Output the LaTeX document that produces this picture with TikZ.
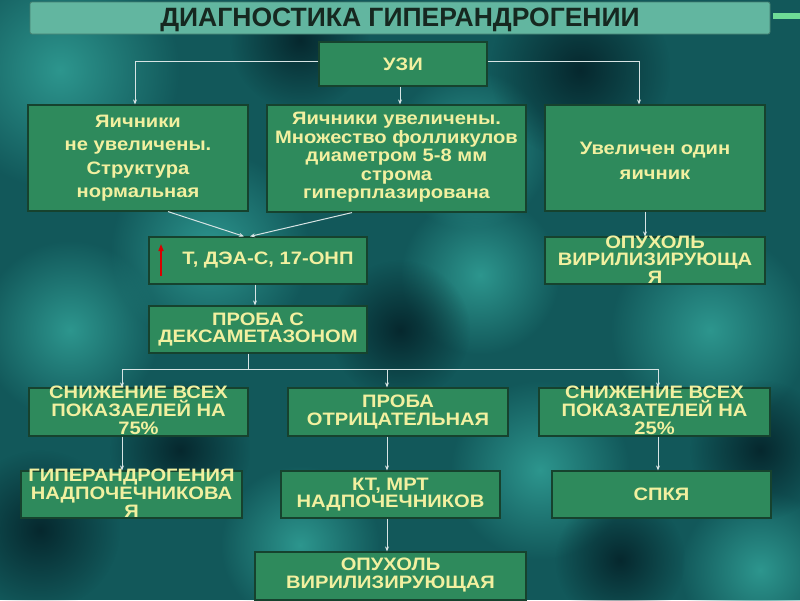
\documentclass[tikz,border=0pt]{standalone}
\usepackage{fontspec}
\setmainfont{Liberation Sans}
\newfontfamily\boxfont{Liberation Sans}[FakeStretch=1.12]
\usetikzlibrary{arrows.meta,fadings}
\tikzfading[name=softblob, inner color=transparent!0, outer color=transparent!100]
\definecolor{bg}{RGB}{18,88,90}
\definecolor{bglight}{RGB}{45,150,142}
\definecolor{bgdark}{RGB}{6,40,46}
\definecolor{boxfill}{RGB}{46,138,92}
\definecolor{boxline}{RGB}{22,66,46}
\definecolor{txtcol}{RGB}{242,240,160}
\definecolor{linecol}{RGB}{215,228,228}
\definecolor{titlefill}{RGB}{98,182,160}
\definecolor{titletxt}{RGB}{22,40,32}
\definecolor{greenbar}{RGB}{110,220,150}
\tikzset{
  box/.style={draw=boxline, line width=1.2pt, fill=boxfill, inner sep=0pt},
  txt/.style={text=txtcol, font=\boxfont\bfseries\fontsize{18}{18.5}\selectfont, align=center, inner sep=0pt},
  conn/.style={draw=linecol, line width=1pt, -{Stealth[length=5pt,width=4pt]}},
  plain/.style={draw=linecol, line width=1pt},
  blobL/.style={fill=bglight, path fading=softblob},
  blobD/.style={fill=bgdark, path fading=softblob}
}
\begin{document}
\begin{tikzpicture}[x=1pt,y=-1pt]
\useasboundingbox (0,0) rectangle (800,600);
\begin{scope}
\clip (0,0) rectangle (800,600);
\fill[bg] (0,0) rectangle (800,600);
\fill[blobL] (60,70) circle[radius=120pt];
\fill[blobL] (210,250) circle[radius=100pt];
\fill[blobL] (70,330) circle[radius=90pt];
\fill[blobL] (480,275) circle[radius=80pt];
\fill[blobL] (710,330) circle[radius=100pt];
\fill[blobL] (540,470) circle[radius=90pt];
\fill[blobL] (300,545) circle[radius=80pt];
\fill[blobL] (760,570) circle[radius=80pt];
\fill[blobL] (470,150) circle[radius=80pt];
\fill[blobD] (580,70) circle[radius=90pt];
\fill[blobD] (400,330) circle[radius=70pt];
\fill[blobD] (40,530) circle[radius=80pt];
\fill[blobD] (180,450) circle[radius=70pt];
\fill[blobD] (760,450) circle[radius=70pt];
\fill[blobD] (620,560) circle[radius=65pt];
\fill[blobD] (300,40) circle[radius=70pt];
\end{scope}
% title
\node[draw=titlefill!70!black, line width=0.8pt, fill=titlefill, rounded corners=2pt, minimum width=740pt, minimum height=32pt, inner sep=0pt] (title) at (400,18) {};
\node[text=titletxt, font=\bfseries\fontsize{26.5}{28}\selectfont, inner sep=0pt] (titletext) at ([yshift=-2pt]title.center) {ДИАГНОСТИКА ГИПЕРАНДРОГЕНИИ};
\fill[greenbar] (773,13) rectangle (800,19);
% boxes
\node[box, minimum width=168pt, minimum height=44pt] (uzi) at (403,64) {};
\node[txt] at (uzi) {УЗИ};
\node[box, minimum width=220pt, minimum height=106pt] (b1) at (138,158) {};
\node[txt, font=\boxfont\bfseries\fontsize{18}{23.5}\selectfont] at (b1) {Яичники\\не увеличены.\\Структура\\нормальная};
\node[box, minimum width=259pt, minimum height=107pt] (b2) at (396.5,158.5) {};
\node[txt] at ([yshift=1pt]b2.center) {Яичники увеличены.\\Множество фолликулов\\диаметром 5-8 мм\\строма\\гиперплазирована};
\node[box, minimum width=220pt, minimum height=106pt] (b3) at (655,158) {};
\node[txt, font=\boxfont\bfseries\fontsize{18}{25}\selectfont] at ([yshift=-2.5pt]b3.center) {Увеличен один\\яичник};
\node[box, minimum width=218pt, minimum height=47pt] (t) at (258,260.5) {};
\node[txt] at ([xshift=10pt]t.center) {Т, ДЭА-С, 17-ОНП};
\node[box, minimum width=220pt, minimum height=47pt] (op1) at (655,260.5) {};
\node[txt, font=\boxfont\bfseries\fontsize{18}{17.5}\selectfont] at ([yshift=1pt]op1.center) {ОПУХОЛЬ\\ВИРИЛИЗИРУЮЩА\\Я};
\node[box, minimum width=218pt, minimum height=47pt] (pr) at (258,329.5) {};
\node[txt, font=\boxfont\bfseries\fontsize{18}{17.5}\selectfont] at (pr) {ПРОБА С\\ДЕКСАМЕТАЗОНОМ};
\node[box, minimum width=219pt, minimum height=48pt] (r3a) at (138.5,412) {};
\node[txt, font=\boxfont\bfseries\fontsize{18}{18}\selectfont] at ([yshift=2pt]r3a.center) {СНИЖЕНИЕ ВСЕХ\\ПОКАЗАЕЛЕЙ НА\\75\%};
\node[box, minimum width=220pt, minimum height=48pt] (r3b) at (398,412) {};
\node[txt, font=\boxfont\bfseries\fontsize{18}{17.5}\selectfont] at (r3b) {ПРОБА\\ОТРИЦАТЕЛЬНАЯ};
\node[box, minimum width=231pt, minimum height=48pt] (r3c) at (654.5,412) {};
\node[txt, font=\boxfont\bfseries\fontsize{18}{18}\selectfont] at ([yshift=2pt]r3c.center) {СНИЖЕНИЕ ВСЕХ\\ПОКАЗАТЕЛЕЙ НА\\25\%};
\node[box, minimum width=221pt, minimum height=47pt] (r4a) at (131.5,494.5) {};
\node[txt, font=\boxfont\bfseries\fontsize{18}{18}\selectfont] at ([yshift=1.5pt]r4a.center) {ГИПЕРАНДРОГЕНИЯ\\НАДПОЧЕЧНИКОВА\\Я};
\node[box, minimum width=219pt, minimum height=47pt] (r4b) at (390.5,494.5) {};
\node[txt, font=\boxfont\bfseries\fontsize{18}{17.5}\selectfont] at (r4b) {КТ, МРТ\\НАДПОЧЕЧНИКОВ};
\node[box, minimum width=219pt, minimum height=47pt] (r4c) at (661.5,494.5) {};
\node[txt] at (r4c) {СПКЯ};
\node[box, minimum width=271pt, minimum height=48pt] (bot) at (390.5,576) {};
\node[txt, font=\boxfont\bfseries\fontsize{18}{18}\selectfont] at ([yshift=1.5pt]bot.center) {ОПУХОЛЬ\\ВИРИЛИЗИРУЮЩАЯ};
% red arrow
\coordinate (ra1) at (161,276);
\coordinate (ra2) at (161,244);
\draw[draw=red!85!black, line width=1.4pt, -{Triangle[length=7pt,width=5pt]}] (ra1) -- (ra2);
% connectors
\draw[conn] ([yshift=3pt]uzi.west) -| ([xshift=-3pt]b1.north);
\draw[conn] ([yshift=3pt]uzi.east) -| ([xshift=-16pt]b3.north);
\draw[conn] ([xshift=-3pt]uzi.south) -- ([xshift=-3pt]uzi.south |- b2.north);
\draw[conn] ([xshift=30pt]b1.south) -- ([xshift=-14pt]t.north);
\draw[conn] ([xshift=-44.5pt]b2.south) -- ([xshift=-8pt]t.north);
\draw[conn] ([xshift=-10pt]b3.south) -- ([xshift=-10pt]op1.north);
\draw[conn] ([xshift=-3pt]t.south) -- ([xshift=-3pt]pr.north);
\coordinate (split) at (248,369);
\draw[plain] ([xshift=-10pt]pr.south) -- (split);
\draw[conn] (split) -| ([xshift=-16.5pt]r3a.north);
\draw[conn] (split) -| ([xshift=3.5pt]r3c.north);
\draw[conn] ([xshift=-11pt]r3b.north |- split) -- ([xshift=-11pt]r3b.north);
\draw[conn] ([xshift=-16.5pt]r3a.south) -- ([xshift=-16.5pt]r3a.south |- r4a.north);
\draw[conn] ([xshift=-11pt]r3b.south) -- ([xshift=-11pt]r3b.south |- r4b.north);
\draw[conn] ([xshift=3.5pt]r3c.south) -- ([xshift=3.5pt]r3c.south |- r4c.north);
\draw[conn] ([xshift=-3.5pt]r4b.south) -- ([xshift=-3.5pt]r4b.south |- bot.north);
\end{tikzpicture}
\end{document}
